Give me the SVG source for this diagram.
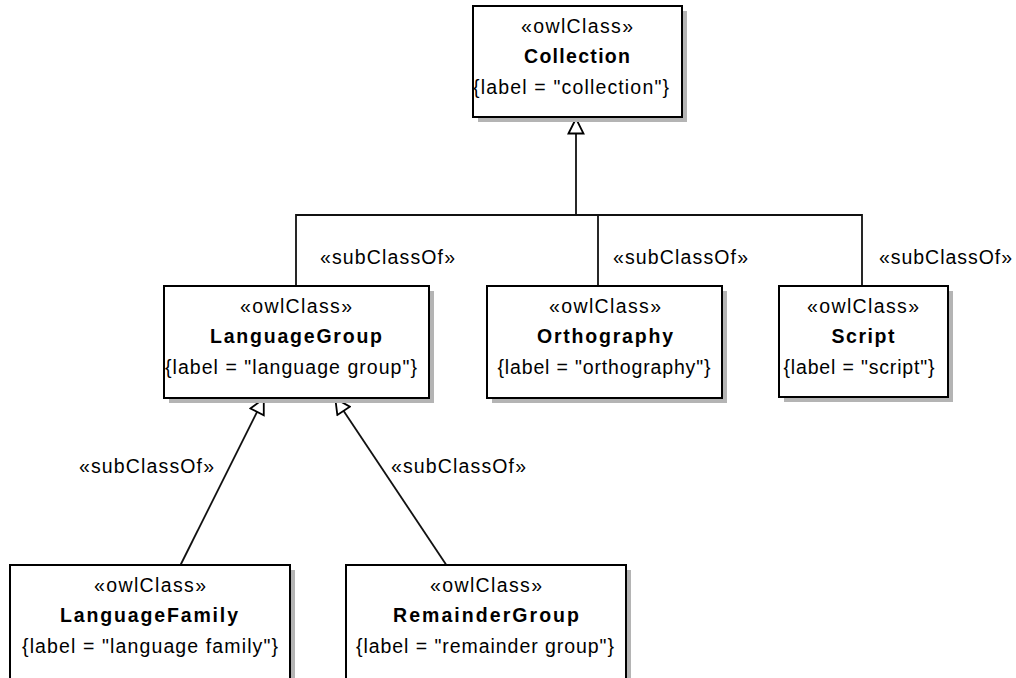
<svg xmlns="http://www.w3.org/2000/svg" width="1016" height="678" viewBox="0 0 1016 678">
<style>
text{font-family:"Liberation Sans",Arial,sans-serif;font-size:19.5px;fill:#000}
.n{font-weight:bold}
.box{fill:#fff;stroke:#000;stroke-width:2}
.sh{fill:#b4b4b4}
.c{fill:none;stroke:#111;stroke-width:1.8}
</style>
<defs>
<marker id="gen" viewBox="0 0 18 18" refX="17" refY="9" markerWidth="18" markerHeight="18" markerUnits="userSpaceOnUse" orient="auto">
<path d="M1.5,1.5 L16.5,9 L1.5,16.5 Z" fill="#fff" stroke="#000" stroke-width="1.8"/>
</marker>
</defs>
<rect width="1016" height="678" fill="#fff"/>
<g id="connectors">
<polyline class="c" points="296,286 296,215 862,215 862,286"/>
<line class="c" x1="598" y1="215" x2="598" y2="286"/>
<line class="c" x1="576" y1="215" x2="576" y2="118" marker-end="url(#gen)"/>
<line class="c" x1="180" y1="566" x2="264" y2="398" marker-end="url(#gen)"/>
<line class="c" x1="447" y1="566" x2="335" y2="398" marker-end="url(#gen)"/>
<text x="320" y="264" textLength="135" lengthAdjust="spacing">«subClassOf»</text>
<text x="613" y="264" textLength="135" lengthAdjust="spacing">«subClassOf»</text>
<text x="879" y="264" textLength="133" lengthAdjust="spacing">«subClassOf»</text>
<text x="79" y="473" textLength="135" lengthAdjust="spacing">«subClassOf»</text>
<text x="391" y="473" textLength="135" lengthAdjust="spacing">«subClassOf»</text>
</g>
<g id="Collection">
<rect class="sh" x="478" y="11" width="209" height="111"/>
<rect class="box" x="473" y="6" width="209" height="111"/>
<text x="577" y="33" text-anchor="middle" textLength="112" lengthAdjust="spacing">«owlClass»</text>
<text class="n" x="577" y="63" text-anchor="middle" textLength="106" lengthAdjust="spacing">Collection</text>
<text x="571" y="94" text-anchor="middle" textLength="196" lengthAdjust="spacing">{label = "collection"}</text>
</g>
<g id="LanguageGroup">
<rect class="sh" x="169" y="291" width="265" height="112"/>
<rect class="box" x="164" y="286" width="265" height="112"/>
<text x="296" y="313" text-anchor="middle" textLength="112" lengthAdjust="spacing">«owlClass»</text>
<text class="n" x="296" y="343" text-anchor="middle" textLength="172" lengthAdjust="spacing">LanguageGroup</text>
<text x="291" y="374" text-anchor="middle" textLength="252" lengthAdjust="spacing">{label = "language group"}</text>
</g>
<g id="Orthography">
<rect class="sh" x="492" y="291" width="235" height="112"/>
<rect class="box" x="487" y="286" width="235" height="112"/>
<text x="605" y="313" text-anchor="middle" textLength="112" lengthAdjust="spacing">«owlClass»</text>
<text class="n" x="605" y="343" text-anchor="middle" textLength="136" lengthAdjust="spacing">Orthography</text>
<text x="604" y="374" text-anchor="middle" textLength="213" lengthAdjust="spacing">{label = "orthography"}</text>
</g>
<g id="Script">
<rect class="sh" x="784" y="291" width="169" height="111"/>
<rect class="box" x="779" y="286" width="169" height="111"/>
<text x="863" y="313" text-anchor="middle" textLength="112" lengthAdjust="spacing">«owlClass»</text>
<text class="n" x="863" y="343" text-anchor="middle" textLength="63" lengthAdjust="spacing">Script</text>
<text x="859" y="374" text-anchor="middle" textLength="151" lengthAdjust="spacing">{label = "script"}</text>
</g>
<g id="LanguageFamily">
<rect class="sh" x="15" y="570" width="280" height="113"/>
<rect class="box" x="10" y="565" width="280" height="114"/>
<text x="150" y="592" text-anchor="middle" textLength="112" lengthAdjust="spacing">«owlClass»</text>
<text class="n" x="149" y="622" text-anchor="middle" textLength="178" lengthAdjust="spacing">LanguageFamily</text>
<text x="150" y="653" text-anchor="middle" textLength="256" lengthAdjust="spacing">{label = "language family"}</text>
</g>
<g id="RemainderGroup">
<rect class="sh" x="351" y="570" width="280" height="113"/>
<rect class="box" x="346" y="565" width="280" height="114"/>
<text x="486" y="592" text-anchor="middle" textLength="112" lengthAdjust="spacing">«owlClass»</text>
<text class="n" x="486" y="622" text-anchor="middle" textLength="186" lengthAdjust="spacing">RemainderGroup</text>
<text x="485" y="653" text-anchor="middle" textLength="258" lengthAdjust="spacing">{label = "remainder group"}</text>
</g>
</svg>
